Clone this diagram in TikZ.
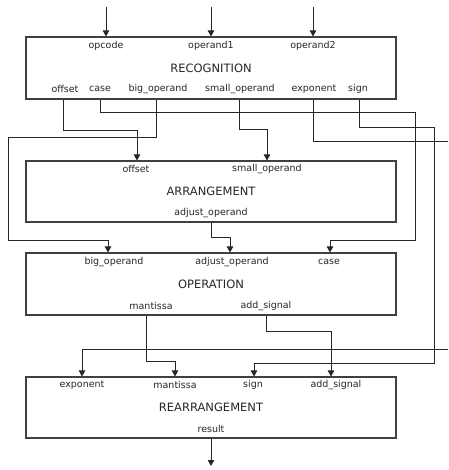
\documentclass[tikz,border=0pt]{standalone}
\usepackage{fontspec}
\setmainfont{DejaVu Sans}
\usetikzlibrary{arrows.meta}
\tikzset{
  blk/.style={draw=black!75, line width=1.1pt, minimum width=370pt, inner sep=0pt, text=black!85, font=\fontsize{11.5}{13}\selectfont},
  port/.style={inner sep=0pt, text=black!85, font=\fontsize{9.5}{11}\selectfont},
  wire/.style={draw=black!85, line width=0.9pt},
  arw/.style={wire, -{Triangle[length=6pt,width=6.5pt]}}
}
\begin{document}
\begin{tikzpicture}[x=1pt,y=-1pt]
\useasboundingbox (0,0) rectangle (448,470);
% blocks
\node[blk, minimum height=62pt] (rec) at (211,68) {RECOGNITION};
\node[blk, minimum height=61pt] (arr) at (211,191.5) {ARRANGEMENT};
\node[blk, minimum height=62pt] (op) at (211,284) {OPERATION};
\node[blk, minimum height=61pt] (rear) at (211,407.5) {REARRANGEMENT};
% ports of RECOGNITION
\node[port] (r1) at (106,46) {opcode};
\node[port] (r2) at (211,46) {operand1};
\node[port] (r3) at (313,46) {operand2};
\node[port] (r4) at (65,89) {offset};
\node[port] (r5) at (100,89) {case};
\node[port] (r6) at (158,89) {big\_operand};
\node[port] (r7) at (240,89) {small\_operand};
\node[port] (r8) at (314,89) {exponent};
\node[port] (r9) at (358,89) {sign};
% ports of ARRANGEMENT
\node[port] (a1) at (136,169) {offset};
\node[port] (a2) at (267,169) {small\_operand};
\node[port] (a3) at (211,213) {adjust\_operand};
% ports of OPERATION
\node[port] (o1) at (114,262) {big\_operand};
\node[port] (o2) at (232,262) {adjust\_operand};
\node[port] (o3) at (329,262) {case};
\node[port] (o4) at (151,306) {mantissa};
\node[port] (o5) at (266,306) {add\_signal};
% ports of REARRANGEMENT
\node[port] (e1) at (82,385) {exponent};
\node[port] (e2) at (175,385) {mantissa};
\node[port] (e3) at (253,385) {sign};
\node[port] (e4) at (336,385) {add\_signal};
\node[port] (e5) at (211,429) {result};
% free ends
\coordinate (in1) at (106,7);
\coordinate (in2) at (211,7);
\coordinate (in3) at (313,7);
\coordinate (expA) at (448,141);
\coordinate (expB) at (448,349);
\coordinate (out) at (211,466);
% inputs
\draw[arw] (in1) -- (rec.north -| in1);
\draw[arw] (in2) -- (rec.north -| in2);
\draw[arw] (in3) -- (rec.north -| in3);
% RECOGNITION outputs
\draw[arw] (rec.south -| 63,0) |- (137,130) -- (arr.north -| 137,0);
\draw[arw] (rec.south -| 239,0) |- (267,129) -- (arr.north -| 267,0);
\draw[arw] (rec.south -| 100,0) |- (415,112) |- (330,240) -- (op.north -| 330,0);
\draw[arw] (rec.south -| 156,0) |- (8,137) |- (108,240) -- (op.north -| 108,0);
\draw[wire] (rec.south -| 313,0) |- (expA);
\draw[arw] (expB) -| (rear.north -| 82,0);
\draw[arw] (rec.south -| 359,0) |- (434,127) |- (254,363) -- (rear.north -| 254,0);
% ARRANGEMENT output
\draw[arw] (arr.south -| 211,0) |- (230,237) -- (op.north -| 230,0);
% OPERATION outputs
\draw[arw] (op.south -| 146,0) |- (175,361) -- (rear.north -| 175,0);
\draw[arw] (op.south -| 266,0) |- (331,331) -- (rear.north -| 331,0);
% result
\draw[arw] (rear.south) -- (out);
\end{tikzpicture}
\end{document}
